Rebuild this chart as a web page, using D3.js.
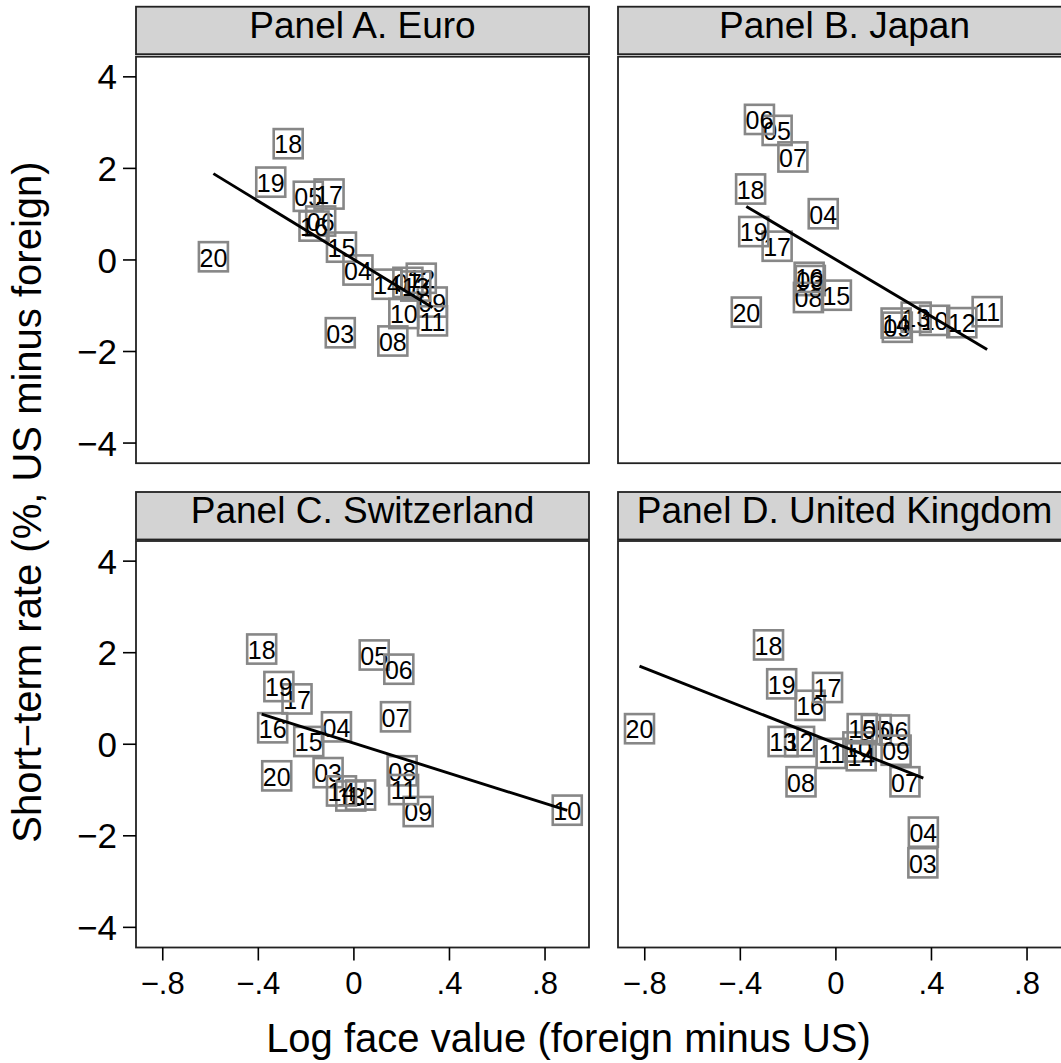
<!DOCTYPE html>
<html>
<head>
<meta charset="utf-8">
<script src="https://cdn.jsdelivr.net/npm/d3@7"></script>
<style>
	body { margin: 0; background: #fff; }
	svg { display: block; font-family: "Liberation Sans", Arial, sans-serif; }
</style>
</head>
<body>
<svg id="chart" width="1061" height="1063"></svg>
<script>
// years shown as box labels, same order in every panel
const years = ["03", "04", "05", "06", "07", "08", "09", "10", "11", "12", "13", "14", "15", "16", "17", "18", "19", "20"]

const euroX = [-0.057, 0.017, -0.191, -0.139, 0.226, 0.163, 0.328, 0.209, 0.329, 0.282, 0.259, 0.139, -0.052, -0.167, -0.104, -0.275, -0.348, -0.588]
const euroY = [-1.59, -0.22, 1.39, 0.85, -0.49, -1.77, -0.92, -1.17, -1.33, -0.40, -0.57, -0.53, 0.28, 0.74, 1.44, 2.54, 1.70, 0.07]

const japanX = [-0.107, -0.053, -0.246, -0.320, -0.180, -0.115, 0.257, 0.413, 0.633, 0.527, 0.336, 0.252, 0.002, -0.112, -0.246, -0.357, -0.344, -0.375]
const japanY = [-0.45, 1.01, 2.83, 3.07, 2.25, -0.82, -1.47, -1.32, -1.13, -1.37, -1.25, -1.38, -0.77, -0.38, 0.30, 1.55, 0.62, -1.14]

const swissX = [-0.108, -0.073, 0.085, 0.188, 0.174, 0.202, 0.269, 0.893, 0.208, 0.028, -0.013, -0.052, -0.189, -0.340, -0.238, -0.386, -0.314, -0.323]
const swissY = [-0.62, 0.38, 1.95, 1.64, 0.60, -0.58, -1.47, -1.44, -0.99, -1.11, -1.13, -1.02, 0.06, 0.36, 0.99, 2.08, 1.26, -0.69]

const ukX = [0.364, 0.366, 0.169, 0.245, 0.289, -0.146, 0.252, 0.092, -0.020, -0.152, -0.221, 0.106, 0.110, -0.108, -0.035, -0.282, -0.227, -0.822]
const ukY = [-2.59, -1.92, 0.32, 0.31, -0.82, -0.82, -0.13, -0.06, -0.20, 0.06, 0.06, -0.25, 0.34, 0.85, 1.24, 2.17, 1.32, 0.34]

const panelTitles = ["Panel A. Euro", "Panel B. Japan", "Panel C. Switzerland", "Panel D. United Kingdom"]
// linear fit: y = intercept + slope * x
const fitIntercept = [0.010, 0.007, 0.023, 0.015]
const fitSlope = [-3.19, -3.10, -1.645, -2.06]

const xTicks = [-0.8, -0.4, 0, 0.4, 0.8]
const xTickLabels = ["\u2212.8", "\u2212.4", "0", ".4", ".8"]
const yTicks = [4, 2, 0, -2, -4]
const yTickLabels = ["4", "2", "0", "\u22122", "\u22124"]

const xTitle = "Log face value (foreign minus US)"
const yTitle = "Short\u2212term rate (%, US minus foreign)"

const panels = [
	{xs: euroX, ys: euroY},
	{xs: japanX, ys: japanY},
	{xs: swissX, ys: swissY},
	{xs: ukX, ys: ukY},
]

// layout
const colLeft = [136, 618]
const panelW = 453
const headTop = [6.7, 492]
const headH = 47.5
const plotTop = [56.7, 541]
const plotH = 406.5

const svg = d3.select("#chart")
svg.append("rect").attr("width", 1061).attr("height", 1063).attr("fill", "#fff")

const x = d3.scaleLinear().domain([-0.912, 0.984]).range([0, panelW])
const y = d3.scaleLinear().domain([-4.44, 4.44]).range([plotH, 0])

panels.forEach((p, i) => {
	const col = i % 2
	const row = Math.floor(i / 2)
	const left = colLeft[col]

	// header strip
	const head = svg.append("g").attr("transform", "translate(" + left + "," + headTop[row] + ")")
	head.append("rect")
		.attr("width", panelW).attr("height", headH)
		.attr("fill", "#d3d3d3").attr("stroke", "#222").attr("stroke-width", 1.8)
	head.append("text")
		.attr("x", panelW / 2).attr("y", 31)
		.attr("text-anchor", "middle")
		.attr("font-size", 37)
		.text(panelTitles[i])

	const g = svg.append("g").attr("transform", "translate(" + left + "," + plotTop[row] + ")")
	g.append("rect")
		.attr("width", panelW).attr("height", plotH)
		.attr("fill", "#fff").attr("stroke", "#222").attr("stroke-width", 1.8)

	const data = years.map((yr, k) => ({year: yr, x: p.xs[k], y: p.ys[k]}))

	// labels in boxes, no fill
	const lab = g.selectAll("g.lab").data(data).enter().append("g")
		.attr("class", "lab")
		.attr("transform", d => "translate(" + x(d.x) + "," + y(d.y) + ")")
	lab.append("text")
		.attr("text-anchor", "middle")
		.attr("y", 9.8)
		.attr("font-size", 25)
		.text(d => d.year)
	lab.insert("rect", "text")
		.attr("x", -14.5).attr("y", -14.6)
		.attr("width", 29).attr("height", 29.2)
		.attr("fill", "none")
		.attr("stroke", "#878787").attr("stroke-width", 2.6)

	// fitted line across the data range
	const xr = d3.extent(p.xs)
	const line = d3.line().x(d => x(d)).y(d => y(fitIntercept[i] + fitSlope[i] * d))
	g.append("path")
		.datum(xr)
		.attr("fill", "none")
		.attr("stroke", "#000")
		.attr("stroke-width", 2.9)
		.attr("d", line)

	// y axis on the left column
	if (col === 0) {
		const ya = g.append("g")
		ya.selectAll("line").data(yTicks).enter().append("line")
			.attr("x1", -13).attr("x2", 0)
			.attr("y1", d => y(d)).attr("y2", d => y(d))
			.attr("stroke", "#000").attr("stroke-width", 1.6)
		ya.selectAll("text").data(yTicks).enter().append("text")
			.attr("x", -19).attr("y", d => y(d))
			.attr("dy", "0.36em")
			.attr("text-anchor", "end")
			.attr("font-size", 35)
			.text((d, k) => yTickLabels[k])
	}
	// x axis on the bottom row
	if (row === 1) {
		const xa = g.append("g").attr("transform", "translate(0," + plotH + ")")
		xa.selectAll("line").data(xTicks).enter().append("line")
			.attr("x1", d => x(d)).attr("x2", d => x(d))
			.attr("y1", 0).attr("y2", 13)
			.attr("stroke", "#000").attr("stroke-width", 1.6)
		xa.selectAll("text").data(xTicks).enter().append("text")
			.attr("x", d => x(d)).attr("y", 46)
			.attr("text-anchor", "middle")
			.attr("font-size", 31)
			.text((d, k) => xTickLabels[k])
	}
})

svg.append("text")
	.attr("x", 568.5).attr("y", 1052)
	.attr("text-anchor", "middle")
	.attr("font-size", 40)
	.text(xTitle)

svg.append("text")
	.attr("transform", "translate(41," + ((plotTop[0] + plotTop[1] + plotH) / 2) + ") rotate(-90)")
	.attr("text-anchor", "middle")
	.attr("font-size", 40)
	.text(yTitle)
</script>
</body>
</html>
